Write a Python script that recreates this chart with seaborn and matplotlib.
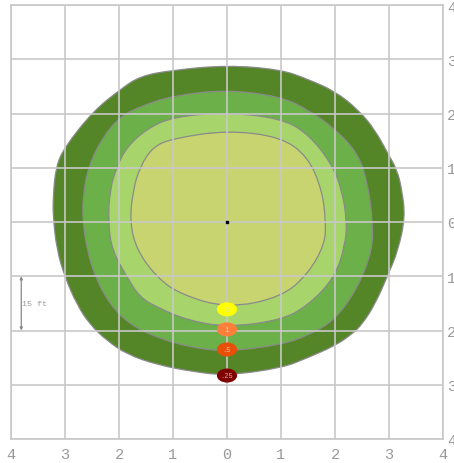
import numpy as np
import pandas as pd
import seaborn as sns
import matplotlib.pyplot as plt
from matplotlib.path import Path
from matplotlib.patches import PathPatch
import matplotlib.transforms as mtrans

# zone outlines (grid units, read clockwise from the top)
outer_x = [0, 1.0, 1.5, 2.0, 2.43, 2.74, 2.98, 3.15, 3.24, 3.30, 3.17, 2.98, 2.74, 2.50, 2.31, 2.0, 1.5, 1.02,
           0, -0.63, -1.30, -1.85, -2.22, -2.54, -2.78, -3.0, -3.15, -3.22, -3.22, -3.17, -3.0, -2.48, -1.98, -1.61, -1.0]
outer_y = [2.89, 2.81, 2.63, 2.41, 2.07, 1.70, 1.26, 0.96, 0.59, 0.09, -0.52, -0.98, -1.52, -1.89, -2.07, -2.28, -2.50, -2.69,
           -2.83, -2.76, -2.63, -2.44, -2.19, -1.89, -1.52, -1.02, -0.52, 0.09, 0.46, 1.02, 1.39, 2.04, 2.44, 2.69, 2.80]

mid_x = [0, 1.0, 1.5, 2.0, 2.43, 2.61, 2.70, 2.69, 2.43, 2.0, 1.5, 1.02,
         0, -0.69, -1.30, -1.80, -2.17, -2.44, -2.59, -2.67, -2.67, -2.57, -2.30, -1.98, -1.61, -1.0]
mid_y = [2.44, 2.31, 2.07, 1.72, 1.26, 0.70, 0.0, -0.52, -1.20, -1.81, -2.09, -2.26,
         -2.39, -2.31, -2.13, -1.89, -1.52, -1.02, -0.52, 0.0, 0.46, 1.02, 1.57, 1.94, 2.13, 2.33]

light_x = [0, 1.0, 1.5, 1.94, 2.13, 2.22, 2.19, 2.0, 1.5, 1.0,
           0, -0.74, -1.30, -1.61, -1.85, -2.13, -2.20, -2.17, -2.04, -1.85, -1.48, -1.0]
light_y = [2.02, 1.91, 1.63, 1.07, 0.59, 0.0, -0.41, -1.02, -1.54, -1.81,
           -1.94, -1.81, -1.57, -1.39, -1.02, -0.52, 0.0, 0.59, 1.02, 1.39, 1.72, 1.94]

inner_x = [0, 1.0, 1.5, 1.76, 1.83, 1.81, 1.5, 1.0, 0, -0.87, -1.30, -1.67, -1.80, -1.74, -1.61, -1.37, -1.0]
inner_y = [1.69, 1.57, 1.20, 0.59, 0.0, -0.41, -0.96, -1.39, -1.59, -1.33, -1.02, -0.52, 0.0, 0.59, 1.02, 1.39, 1.54]

zone_colors = ["#548527", "#6bb048", "#a8d46c", "#c8d470"]

levels = ["3", "1", ".5", ".25"]
level_y = [-1.61, -1.98, -2.35, -2.83]
level_colors = ["#ffff00", "#ff7f3a", "#e8500a", "#800000"]

ticks = list(range(-4, 5))
tick_labels = [str(abs(t)) for t in ticks]

sns.set_style("white")
plt.rcParams["font.family"] = ["Liberation Mono", "DejaVu Sans Mono"]

fig = plt.figure(figsize=(4.54, 4.64), dpi=100)
ax = fig.add_axes([11 / 454, 24 / 464, 432 / 454, 434 / 464])


def blob(xs, ys):
    # closed smooth outline through the read points (quadratic b-spline)
    p = np.column_stack([xs, ys])
    m = (p + np.roll(p, -1, axis=0)) / 2
    verts = [m[-1]]
    codes = [Path.MOVETO]
    for i in range(len(p)):
        verts += [p[i], m[i]]
        codes += [Path.CURVE3, Path.CURVE3]
    verts.append(m[-1])
    codes.append(Path.CLOSEPOLY)
    return Path(verts, codes)


for (xs, ys), c in zip([(outer_x, outer_y), (mid_x, mid_y), (light_x, light_y), (inner_x, inner_y)], zone_colors):
    ax.add_patch(PathPatch(blob(xs, ys), facecolor=c, edgecolor="#8a8a8a", lw=0.9, zorder=1))

# grid on top of the zones
for t in ticks:
    ax.axvline(t, color="#c8c8c8", lw=1.2, zorder=2)
    ax.axhline(t, color="#c8c8c8", lw=1.2, zorder=2)

# rounded oval markers for the level labels
oval = Path.unit_circle().transformed(mtrans.Affine2D().scale(1.0, 0.7))
df = pd.DataFrame({"x": [0] * len(levels), "y": level_y, "lvl": levels})
sns.scatterplot(data=df, x="x", y="y", hue="lvl", palette=dict(zip(levels, level_colors)),
                marker=oval, s=210, linewidth=0, legend=False, ax=ax, zorder=4)
for lv, yy in zip(levels, level_y):
    ax.text(0, yy, lv, ha="center", va="center", fontsize=5, color="#dddddd", alpha=0.8, zorder=5)

ax.plot([0], [0], marker="s", ms=2, color="black", zorder=5)

# scale marker
ax.annotate("", xy=(-3.81, -1.0), xytext=(-3.81, -2.0),
            arrowprops=dict(arrowstyle="<|-|>", color="#888888", lw=0.9, mutation_scale=4, shrinkA=0, shrinkB=0),
            zorder=5)
ax.text(-3.79, -1.5, "15 ft", fontsize=6, color="#999999", ha="left", va="center", zorder=5)

ax.set_xlim(-4, 4)
ax.set_ylim(-4, 4)
ax.set_xticks(ticks)
ax.set_xticklabels(tick_labels)
ax.set_yticks(ticks)
ax.set_yticklabels(tick_labels)
ax.yaxis.tick_right()
ax.tick_params(length=0, labelsize=11, labelcolor="#999999")
ax.tick_params(axis="x", pad=6)
ax.tick_params(axis="y", pad=3)
ax.set_xlabel("")
ax.set_ylabel("")
for s in ax.spines.values():
    s.set_color("#c8c8c8")
    s.set_linewidth(1.2)

fig.savefig("out.png", dpi=100)
